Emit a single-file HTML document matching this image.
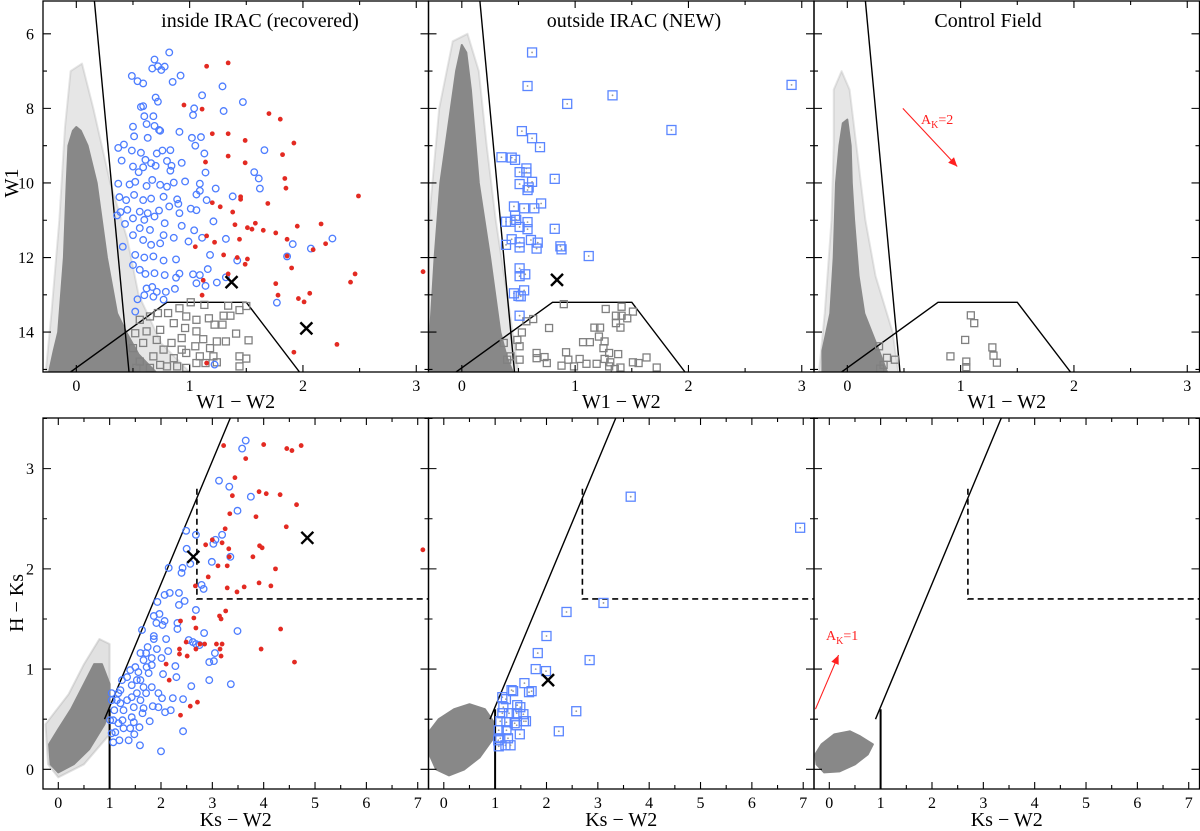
<!DOCTYPE html>
<html><head><meta charset="utf-8"><title>WISE colour-colour and colour-magnitude diagrams</title>
<style>
html,body{margin:0;padding:0;background:#fff;}
svg{display:block;font-family:"Liberation Serif",serif;}
</style></head>
<body>
<svg id="fig" width="1200" height="831" viewBox="0 0 1200 831" xmlns="http://www.w3.org/2000/svg"></svg>
<script>
// ---------- DATA ----------
const tlRedX=[1.15,1.34,0.95,1.11,1.70,1.80,1.20,1.34,1.49,1.92,1.34,1.14,1.49,1.82,1.84,1.85,2.49,1.45,1.45,1.20,1.27,1.69,1.38,1.40,1.58,1.51,1.55,1.65,1.76,1.95,2.16,2.20,2.09,1.15,1.22,1.44,1.86,1.05,1.30,1.42,1.51,1.49,1.86,1.90,3.06,2.46,2.42,1.76,1.78,1.11,1.12,1.96,2.01,2.06,1.92,2.30,1.15,1.34];
const tlRedY=[6.87,6.78,7.91,8.02,8.14,8.29,8.68,8.68,8.86,8.93,9.28,9.44,9.46,9.24,9.88,10.14,10.35,10.37,10.44,10.53,10.64,10.55,10.78,11.12,11.08,11.20,11.24,11.27,11.34,11.16,11.10,11.63,11.79,11.42,11.59,11.51,11.51,11.71,11.93,12.00,12.04,12.18,11.96,12.28,12.38,12.44,12.66,12.70,13.01,13.01,12.61,13.10,13.19,12.96,14.54,14.33,14.83,12.44];
const tlBlueX=[0.82,0.69,0.67,0.72,0.78,0.75,0.49,0.54,0.59,0.85,0.92,1.11,1.29,1.47,0.70,0.72,0.59,0.57,1.04,1.03,1.30,0.60,0.68,0.50,0.62,0.69,0.51,0.63,0.73,0.74,0.91,1.02,1.10,1.05,1.66,0.37,0.42,0.49,0.57,0.71,0.76,0.83,0.61,0.66,0.80,0.93,1.13,1.14,0.40,0.50,0.55,0.59,0.70,0.84,0.83,0.96,1.09,1.09,1.23,1.06,1.57,1.61,1.62,0.37,0.47,0.52,0.62,0.67,0.74,0.80,0.86,0.38,0.44,0.51,0.59,0.66,0.77,0.89,0.90,1.15,1.38,1.01,1.06,0.39,0.45,0.56,0.63,0.73,0.82,0.91,0.36,0.50,0.60,0.69,0.78,0.93,1.04,1.21,0.43,0.56,0.65,0.77,0.86,0.99,1.11,1.32,2.26,1.91,2.07,1.86,0.50,0.59,0.66,0.74,0.41,0.52,0.60,0.68,0.77,0.88,1.18,1.42,0.50,0.56,0.61,0.69,0.78,0.88,0.91,1.03,1.09,1.24,1.32,1.06,1.14,0.62,0.67,0.71,0.79,0.87,0.60,0.68,0.77,0.54,0.52,1.77,1.22,1.16];
const tlBlueY=[6.50,6.69,6.93,6.87,6.88,6.97,7.13,7.27,7.33,7.29,7.12,7.65,7.41,7.83,7.71,7.82,7.94,7.96,8.00,8.18,8.07,8.21,8.21,8.49,8.42,8.47,8.75,8.79,8.58,8.60,8.63,8.79,8.77,9.00,9.12,9.06,8.97,9.13,9.19,9.21,9.13,9.12,9.38,9.47,9.41,9.46,9.21,9.72,9.40,9.56,9.71,9.58,9.54,9.54,9.67,9.96,10.02,10.21,10.15,10.31,9.71,9.88,10.15,10.02,10.04,9.97,10.08,9.92,10.05,10.10,9.99,10.38,10.46,10.32,10.46,10.42,10.37,10.44,10.56,10.46,10.36,10.69,10.73,10.78,10.72,10.77,10.81,10.74,10.63,10.81,10.87,10.95,10.99,10.90,11.08,11.15,11.27,11.03,11.10,11.21,11.26,11.40,11.47,11.57,11.47,11.50,11.49,11.64,11.76,11.97,11.40,11.53,11.66,11.62,11.71,11.93,12.00,11.97,12.08,12.05,11.93,12.08,12.20,12.33,12.44,12.42,12.47,12.54,12.43,12.45,12.47,12.67,12.53,12.69,12.76,12.83,12.79,12.92,12.92,12.84,13.01,13.05,13.13,13.12,13.45,13.21,14.87,12.31];
const tlSqX=[1.01,1.13,1.34,1.44,1.50,0.91,0.81,0.72,0.65,0.56,0.97,1.06,1.17,1.30,1.36,0.86,0.74,0.62,0.52,0.96,1.06,1.22,1.29,1.41,1.52,1.12,1.24,1.32,0.93,0.84,0.71,0.59,0.50,0.77,0.93,1.05,1.18,0.68,0.86,0.97,1.09,1.21,1.44,1.50,0.56,0.74,0.89,0.97,1.06,1.14,1.24,1.44,0.53,0.65,0.80];
const tlSqY=[13.20,13.27,13.29,13.41,13.30,13.36,13.49,13.49,13.58,13.67,13.58,13.67,13.63,13.56,13.56,13.76,13.94,13.98,14.03,13.89,13.98,13.80,13.80,14.04,14.22,14.19,14.25,14.25,14.16,14.29,14.21,14.29,14.43,14.47,14.47,14.38,14.43,14.65,14.70,14.56,14.65,14.65,14.65,14.71,14.79,14.88,14.92,14.96,14.83,14.83,14.81,14.92,14.96,14.96,14.92];
const tlCrossX=[1.37,2.03];
const tlCrossY=[12.66,13.90];
const tmBlueX=[0.62,0.58,1.33,0.93,2.91,1.85,0.53,0.62,0.69,0.35,0.44,0.47,0.57,0.51,0.57,0.51,0.62,0.59,0.58,0.82,0.70,0.46,0.55,0.64,0.47,0.39,0.48,0.43,0.58,0.51,0.58,0.82,0.44,0.39,0.51,0.51,0.61,0.67,0.66,0.87,0.88,1.12,0.51,0.51,0.56,0.55,0.46,0.50,0.52,0.51];
const tmBlueY=[6.50,7.40,7.65,7.88,7.37,8.58,8.61,8.80,9.04,9.31,9.32,9.38,9.61,9.71,9.72,10.03,9.97,10.12,10.19,9.89,10.55,10.63,10.68,10.68,10.88,11.04,10.99,11.04,11.05,11.18,11.24,11.23,11.51,11.66,11.59,11.73,11.53,11.60,11.76,11.70,11.78,11.96,12.29,12.50,12.45,12.88,12.96,13.03,13.04,13.56];
const tmSqX=[0.90,1.27,1.41,1.51,1.36,1.41,1.46,1.36,1.40,1.17,1.22,0.77,0.63,0.57,1.21,1.07,1.13,1.26,1.25,0.92,1.30,1.38,0.66,0.73,0.66,1.04,0.94,1.10,1.19,1.26,1.31,1.51,1.56,1.63,1.72,1.40,1.35,1.30,0.99,0.88,0.75,0.43,0.51,0.49,0.53,0.37,0.40,0.51];
const tmSqY=[13.25,13.38,13.32,13.45,13.56,13.56,13.63,13.76,13.88,13.88,13.88,13.89,13.65,13.71,14.12,14.27,14.27,14.25,14.43,14.54,14.56,14.59,14.56,14.67,14.70,14.72,14.74,14.85,14.85,14.72,14.81,14.81,14.83,14.68,14.95,14.95,14.99,14.92,14.92,14.90,14.83,14.65,14.38,14.21,14.01,14.29,14.74,14.74];
const tmCrossX=[0.84];
const tmCrossY=[12.60];
const trSqX=[1.09,1.12,1.04,1.28,1.29,1.32,0.91,1.05,1.05,0.42,0.35,0.28,0.32,0.29];
const trSqY=[13.55,13.76,14.21,14.41,14.63,14.82,14.65,14.79,14.94,14.74,14.69,14.38,14.88,14.98];
const blRedX=[3.22,4.00,4.45,4.55,4.73,3.65,3.44,3.39,3.91,4.05,4.32,4.64,3.85,3.34,3.25,4.44,2.87,3.00,3.19,3.32,3.79,3.92,3.97,3.33,3.11,3.29,2.92,4.23,2.67,3.29,3.48,3.62,3.91,4.14,7.10,3.26,2.64,3.14,3.17,2.38,2.68,3.08,3.19,2.49,2.76,2.85,3.15,2.68,2.36,3.95,2.36,2.51,3.17,4.33,4.60,2.10,2.16,2.38,2.57,2.71];
const blRedY=[3.23,3.24,3.20,3.18,3.23,3.10,2.91,2.73,2.77,2.75,2.74,2.64,2.52,2.55,2.40,2.42,2.24,2.29,2.26,2.20,2.12,2.23,2.21,2.12,2.03,2.03,1.92,2.00,1.83,1.81,1.77,1.82,1.86,1.83,2.19,1.58,1.51,1.53,1.50,1.48,1.41,1.25,1.25,1.27,1.25,1.25,1.20,1.20,1.20,1.20,1.15,1.13,1.13,1.40,1.07,1.05,0.89,0.54,0.63,0.67];
const blBlueX=[3.65,3.58,3.13,3.33,3.75,3.49,2.49,2.68,3.19,3.02,3.06,3.35,2.50,2.99,2.57,2.15,2.42,2.40,2.79,2.83,2.17,2.35,2.07,2.46,1.93,2.68,2.35,1.86,1.97,2.07,2.03,1.91,2.32,2.32,2.84,3.49,1.63,1.86,1.86,2.10,1.74,1.92,2.54,2.62,2.68,2.75,3.05,3.03,2.94,2.14,2.01,1.66,1.50,1.82,2.28,2.30,2.04,2.94,3.36,2.59,1.76,1.34,1.53,1.82,1.95,2.23,2.02,2.43,2.08,2.19,1.95,1.84,2.43,2.00,1.59,1.48,1.37,1.19,1.07,1.11,1.07,1.58,1.78,1.25,1.43,1.09,1.27,1.47,1.64,1.14,1.34,1.53,1.71,1.66,1.21,1.43,1.60,1.24,1.40,1.56,1.72,1.82,1.60,1.71,1.17,1.04,1.04,1.01,1.04,1.40,1.27,1.17,1.43,1.60,1.66,1.47,1.21];
const blBlueY=[3.28,3.20,2.88,2.82,2.72,2.58,2.38,2.34,2.34,2.25,2.29,2.12,2.20,2.07,2.05,2.01,2.01,1.96,1.84,1.80,1.76,1.76,1.74,1.68,1.67,1.59,1.64,1.53,1.55,1.48,1.44,1.46,1.46,1.40,1.36,1.38,1.39,1.33,1.30,1.30,1.22,1.20,1.29,1.27,1.25,1.24,1.16,1.08,1.07,1.18,1.11,1.09,1.02,1.04,1.03,0.92,0.95,0.89,0.85,0.83,0.96,0.92,0.89,0.82,0.76,0.71,0.71,0.70,0.57,0.59,0.62,0.63,0.38,0.18,0.24,0.35,0.29,0.29,0.27,0.37,0.49,0.42,0.48,0.49,0.52,0.59,0.59,0.62,0.56,0.69,0.69,0.76,0.76,0.82,0.79,0.84,0.89,0.89,0.99,0.97,1.02,1.11,1.16,1.16,0.76,0.76,0.69,0.49,0.36,0.41,0.41,0.46,0.72,0.69,0.61,0.47,0.66];
const blCrossX=[2.63,4.85];
const blCrossY=[2.12,2.31];
const bmBlueX=[3.64,6.94,3.11,2.39,2.00,1.83,2.84,1.79,1.99,1.57,1.32,1.35,1.66,1.71,1.14,1.21,2.58,1.43,1.49,1.16,1.14,1.27,1.42,1.55,1.60,1.56,1.10,1.22,1.38,1.42,1.07,1.22,1.48,2.24,1.10,1.25,1.07,1.20,1.30,1.06];
const bmBlueY=[2.72,2.41,1.66,1.57,1.33,1.16,1.09,1.00,0.98,0.86,0.79,0.78,0.77,0.78,0.72,0.70,0.58,0.64,0.62,0.62,0.56,0.56,0.56,0.55,0.48,0.48,0.48,0.47,0.46,0.44,0.39,0.39,0.35,0.38,0.31,0.31,0.23,0.24,0.24,0.29];
const bmCrossX=[2.03];
const bmCrossY=[0.89];
// Field-star clouds (outline vertices)
const tlCoreX=[-0.24,-0.2,-0.16,-0.11,-0.085,-0.07,-0.03,0.0,0.04,0.1,0.18,0.27,0.36,0.44,0.55,0.7];
const tlCoreY=[15.07,14.5,14.0,12.0,10.0,9.0,8.6,8.5,8.6,9.0,10.0,12.0,13.5,14.0,14.6,15.07];
const tlHaloX=[-0.27,-0.22,-0.15,-0.1,-0.05,0.05,0.15,0.3,0.45,0.55,0.75,1.0];
const tlHaloY=[15.07,13.5,11.0,8.5,7.0,6.8,8.0,10.0,11.5,13.0,14.3,15.07];
const tmCoreX=[-0.28,-0.28,-0.24,-0.19,-0.12,-0.05,0.0,0.04,0.08,0.15,0.25,0.34,0.4,0.45];
const tmCoreY=[15.07,14.0,12.0,10.0,8.5,7.0,6.3,6.5,7.5,10.0,12.0,14.0,14.7,15.07];
const tmHaloX=[-0.29,-0.29,-0.2,-0.08,0.05,0.15,0.22,0.3,0.4,0.5];
const tmHaloY=[15.07,11.0,8.0,6.2,6.0,7.0,9.0,11.0,13.0,15.07];
const trCoreX=[-0.22,-0.22,-0.15,-0.12,-0.1,-0.07,-0.04,0.0,0.03,0.04,0.06,0.1,0.15,0.28,0.35];
const trCoreY=[15.07,14.5,13.5,12.0,10.0,9.0,8.4,8.3,9.0,10.0,11.0,12.5,13.5,14.5,15.07];
const trHaloX=[-0.25,-0.2,-0.14,-0.12,-0.12,-0.05,0.02,0.08,0.16,0.25,0.4,0.45];
const trHaloY=[15.07,13.5,11.0,9.0,7.5,7.0,7.5,9.0,11.0,12.5,14.0,15.07];
const blCoreX=[-0.15,0.0,0.3,0.6,0.9,1.0,1.0,0.85,0.7,0.5,0.25,0.0,-0.18];
const blCoreY=[0.05,-0.03,0.05,0.2,0.45,0.6,0.85,1.05,1.05,0.85,0.6,0.4,0.25];
const blHaloX=[-0.2,0.0,0.5,1.0,1.0,1.0,0.8,0.5,0.2,-0.25];
const blHaloY=[0.05,-0.08,0.05,0.35,0.9,1.25,1.3,1.05,0.75,0.45];
const bmCoreX=[-0.28,-0.15,0.1,0.4,0.7,0.95,1.0,0.8,0.5,0.2,-0.1,-0.28];
const bmCoreY=[0.15,0.0,-0.06,0.0,0.12,0.3,0.45,0.6,0.65,0.6,0.5,0.38];
const brCoreX=[-0.25,-0.1,0.2,0.5,0.75,0.85,0.6,0.4,0.1,-0.15,-0.27];
const brCoreY=[0.05,-0.03,-0.02,0.05,0.15,0.25,0.33,0.38,0.35,0.25,0.15];
const topXTicks=["0","1","2","3"];
const topYTicks=["6","8","10","12","14"];
const botXTicks=["0","1","2","3","4","5","6","7"];
const botYTicks=["0","1","2","3"];

// ---------- DRAW ----------
const NS="http://www.w3.org/2000/svg";
const svg=document.getElementById('fig');
function mk(tag,attrs,parent){const e=document.createElementNS(NS,tag);for(const k in attrs)e.setAttribute(k,attrs[k]);(parent||svg).appendChild(e);return e;}

const colL=[43,428.5,814], colW=385.5;
const TOP={y0:1,y1:372,xmin:-0.294,xmax:3.108,ymin:15.07,ymax:5.12};
const BOT={y0:418,y1:789,xmin:-0.298,xmax:7.21,ymin:-0.196,ymax:3.505};
function axes(col,R){
  const x0=colL[col],x1=x0+colW;
  const sx=v=>x0+(v-R.xmin)/(R.xmax-R.xmin)*colW;
  const sy=v=>R.y1-(v-R.ymin)/(R.ymax-R.ymin)*(R.y1-R.y0);
  return {sx,sy,x0,x1,y0:R.y0,y1:R.y1};
}
function clip(id,A){const d=mk('clipPath',{id:id});mk('rect',{x:A.x0,y:A.y0,width:A.x1-A.x0,height:A.y1-A.y0},d);return 'url(#'+id+')';}
function poly(g,A,xs,ys,fill,op,name){
  const p=xs.map((x,i)=>A.sx(x).toFixed(1)+','+A.sy(ys[i]).toFixed(1)).join(' ');
  const e=mk('polygon',{points:p,fill:fill,'fill-opacity':op,'stroke':fill,'stroke-opacity':op,'stroke-width':2,'stroke-linejoin':'round'},g);
  
  
}
function line(g,A,pts,opts,name){
  const p=pts.map(q=>A.sx(q[0]).toFixed(1)+','+A.sy(q[1]).toFixed(1)).join(' ');
  const e=mk('polyline',Object.assign({points:p,fill:'none',stroke:'#000','stroke-width':1.4},opts||{}),g);
  
  
}
function circles(g,A,xs,ys){xs.forEach((x,i)=>{
  const e=mk('circle',{cx:A.sx(x),cy:A.sy(ys[i]),r:3.3,fill:'none',stroke:'#4d7dff','stroke-width':1.3},g);
  
  });}
function reds(g,A,xs,ys){xs.forEach((x,i)=>{
  const e=mk('circle',{cx:A.sx(x),cy:A.sy(ys[i]),r:2.4,fill:'#e32a22'},g);
  
  });}
function squares(g,A,xs,ys,size,col,dot,name){xs.forEach((x,i)=>{
  const cx=A.sx(x),cy=A.sy(ys[i]);
  const e=mk('rect',{x:cx-size/2,y:cy-size/2,width:size,height:size,fill:'none',stroke:col,'stroke-width':1.3},g);
  
  
  if(dot){mk('circle',{cx:cx,cy:cy,r:0.9,fill:'#999'},g);}});}
function crosses(g,A,xs,ys){xs.forEach((x,i)=>{
  const cx=A.sx(x),cy=A.sy(ys[i]),s=6;
  const e=mk('path',{d:`M${cx-s},${cy-s}L${cx+s},${cy+s}M${cx-s},${cy+s}L${cx+s},${cy-s}`,stroke:'#000','stroke-width':2.4,fill:'none'},g);
  
  });}
function frame(A,R,xMajor,xMinor,yMajor,yMinor,xLabels,yLabels,showY,xTitle){
  const g=mk('g',{});
  
  
  mk('rect',{x:A.x0,y:A.y0,width:A.x1-A.x0,height:A.y1-A.y0,fill:'none',stroke:'#000','stroke-width':1.3},g);
  let d='';
  for(let v=Math.ceil(R.xmin/xMinor)*xMinor;v<=R.xmax;v+=xMinor){
    const x=A.sx(v),maj=Math.abs(v/xMajor-Math.round(v/xMajor))<1e-6,L=maj?7:4;
    d+=`M${x},${A.y1}v${-L}M${x},${A.y0}v${L}`;}
  const ylo=Math.min(R.ymin,R.ymax),yhi=Math.max(R.ymin,R.ymax);
  for(let v=Math.ceil(ylo/yMinor)*yMinor;v<=yhi;v+=yMinor){
    const y=A.sy(v),maj=Math.abs(v/yMajor-Math.round(v/yMajor))<1e-6,L=maj?8:4;
    d+=`M${A.x0},${y}h${L}M${A.x1},${y}h${-L}`;}
  mk('path',{d:d,stroke:'#000','stroke-width':1.1,fill:'none'},g);
  xLabels.forEach((t,i)=>{const e=mk('text',{x:A.sx(i*xMajor),y:A.y1+19,'text-anchor':'middle','font-size':16},g);e.textContent=t;
    
    });
  if(showY){yLabels.forEach(t=>{const e=mk('text',{x:A.x0-9,y:A.sy(+t)+5.5,'text-anchor':'end','font-size':16},g);e.textContent=t;
    
    });}
  const xt=mk('text',{x:(A.x0+A.x1)/2,y:A.y1+(R===TOP?36:37),'text-anchor':'middle','font-size':20},g);
  xt.textContent=xTitle;
  
  
}

const cores=[[tlCoreX,tlCoreY,tlHaloX,tlHaloY],[tmCoreX,tmCoreY,tmHaloX,tmHaloY],[trCoreX,trCoreY,trHaloX,trHaloY]];
const titles=["inside IRAC (recovered)","outside IRAC (NEW)","Control Field"];
for(let c=0;c<3;c++){
  const A=axes(c,TOP);
  const g=mk('g',{'clip-path':clip('ct'+c,A)});
  
  
  poly(g,A,cores[c][2],cores[c][3],'#9a9a9a',0.25,'field-star-halo');
  poly(g,A,cores[c][0],cores[c][1],'#888',1,'field-star-cloud');
  line(g,A,[[0.16,5.12],[0.465,15.07]],{},'selection-line-steep');
  line(g,A,[[-0.05,15.07],[0.8,13.2],[1.5,13.2],[1.97,15.07]],{},'faint-source-trapezoid');
  if(c===0){squares(g,A,tlSqX,tlSqY,7,'#808080',false,'faint-source-square');circles(g,A,tlBlueX,tlBlueY);reds(g,A,tlRedX,tlRedY);crosses(g,A,tlCrossX,tlCrossY);}
  if(c===1){squares(g,A,tmSqX,tmSqY,7,'#808080',false,'faint-source-square');squares(g,A,tmBlueX,tmBlueY,9,'#5b86ff',true,'new-yso-square');crosses(g,A,tmCrossX,tmCrossY);}
  if(c===2){squares(g,A,trSqX,trSqY,7,'#808080',false,'faint-source-square');
    const ar=mk('g',{},g);
    
    
    const x1=A.sx(0.49),y1=A.sy(8.0),x2=A.sx(0.97),y2=A.sy(9.56);
    mk('line',{x1:x1,y1:y1,x2:x2,y2:y2,stroke:'#ff2020','stroke-width':1.1},ar);
    const ang=Math.atan2(y2-y1,x2-x1),h=9,w=4;
    mk('polygon',{points:`${x2},${y2} ${x2-h*Math.cos(ang)+w*Math.sin(ang)},${y2-h*Math.sin(ang)-w*Math.cos(ang)} ${x2-h*Math.cos(ang)-w*Math.sin(ang)},${y2-h*Math.sin(ang)+w*Math.cos(ang)}`,fill:'#ff2020'},ar);
    const t=mk('text',{x:921,y:124,'font-size':14,fill:'#ff2020'},ar);
    t.innerHTML='A<tspan font-size="10" dy="4">K</tspan><tspan dy="-4">=2</tspan>';
  }
  frame(A,TOP,1,0.5,2,1,topXTicks,topYTicks,c===0,'W1 \u2212 W2');
  const tt=mk('text',{x:[260,634,988][c],y:27,'text-anchor':'middle','font-size':20});
  tt.textContent=titles[c];
  
  
}
const bcores=[[blCoreX,blCoreY],[bmCoreX,bmCoreY],[brCoreX,brCoreY]];
for(let c=0;c<3;c++){
  const A=axes(c,BOT);
  const g=mk('g',{'clip-path':clip('cb'+c,A)});
  
  
  if(c===0)poly(g,A,blHaloX,blHaloY,'#9a9a9a',0.3,'field-star-halo');
  poly(g,A,bcores[c][0],bcores[c][1],'#888',1,'field-star-cloud');
  line(g,A,[[0.9,0.5],[3.35,3.505]],{},'yso-boundary-line');
  line(g,A,[[1.0,0.6],[1.0,-0.196]],{'stroke-width':2},'ks-w2-cut-line');
  line(g,A,[[2.7,2.8],[2.7,1.7],[7.21,1.7]],{'stroke-dasharray':'6,4','stroke-width':1.6},'dashed-region-line');
  if(c===0){circles(g,A,blBlueX,blBlueY);reds(g,A,blRedX,blRedY);crosses(g,A,blCrossX,blCrossY);}
  if(c===1){squares(g,A,bmBlueX,bmBlueY,9,'#5b86ff',true,'new-yso-square');crosses(g,A,bmCrossX,bmCrossY);}
  if(c===2){
    const ar=mk('g',{},g);
    
    
    const x1=A.sx(-0.27),y1=A.sy(0.6),x2=A.sx(0.18),y2=A.sy(1.14);
    mk('line',{x1:x1,y1:y1,x2:x2,y2:y2,stroke:'#ff2020','stroke-width':1.1},ar);
    const ang=Math.atan2(y2-y1,x2-x1),h=9,w=4;
    mk('polygon',{points:`${x2},${y2} ${x2-h*Math.cos(ang)+w*Math.sin(ang)},${y2-h*Math.sin(ang)-w*Math.cos(ang)} ${x2-h*Math.cos(ang)-w*Math.sin(ang)},${y2-h*Math.sin(ang)+w*Math.cos(ang)}`,fill:'#ff2020'},ar);
    const t=mk('text',{x:826,y:640,'font-size':14,fill:'#ff2020'},ar);
    t.innerHTML='A<tspan font-size="10" dy="4">K</tspan><tspan dy="-4">=1</tspan>';
  }
  frame(A,BOT,1,0.5,1,0.5,botXTicks,botYTicks,c===0,'Ks \u2212 W2');
}
const y1t=mk('text',{x:0,y:0,'text-anchor':'middle','font-size':20,transform:'translate(18,183) rotate(-90)'});
y1t.textContent='W1';


const y2t=mk('text',{x:0,y:0,'text-anchor':'middle','font-size':20,transform:'translate(23,603) rotate(-90)'});
y2t.textContent='H \u2212 Ks';


</script>
</body></html>
